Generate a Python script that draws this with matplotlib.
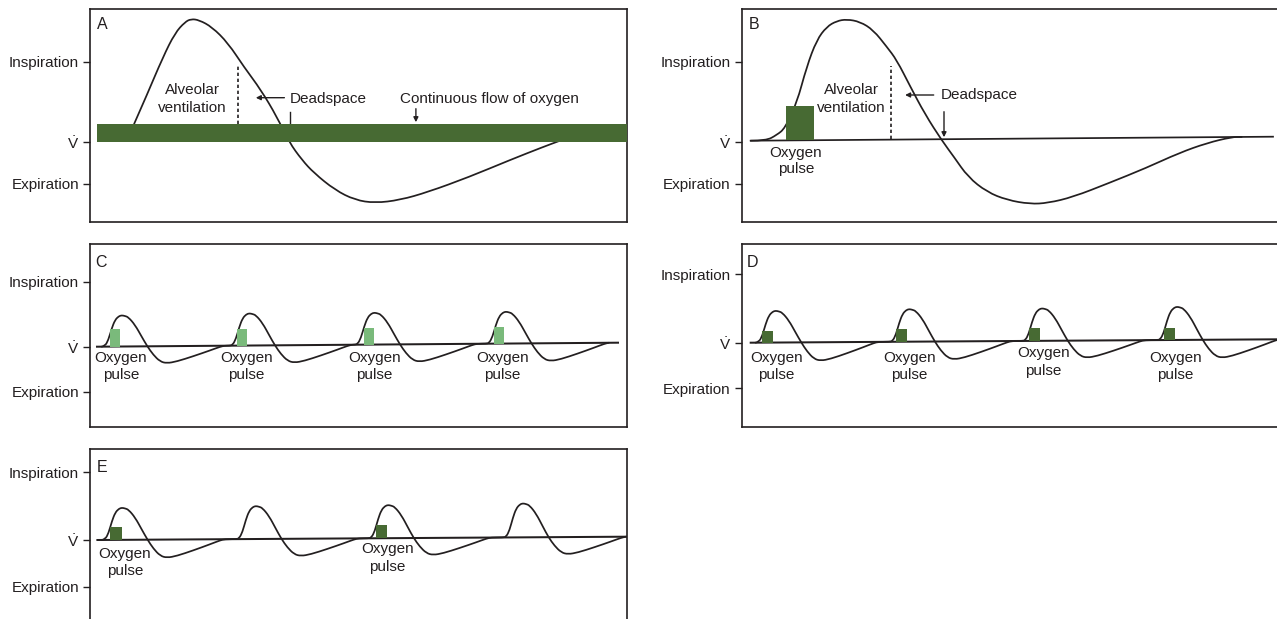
import matplotlib
matplotlib.use("Agg")
import matplotlib.pyplot as plt
from matplotlib.path import Path
from matplotlib.patches import PathPatch
import numpy as np

plt.rcParams['font.family'] = ['Liberation Sans', 'DejaVu Sans']
plt.rcParams['mathtext.fontset'] = 'custom'
plt.rcParams['mathtext.rm'] = 'Liberation Sans'
plt.rcParams['mathtext.it'] = 'Liberation Sans:italic'
plt.rcParams['mathtext.bf'] = 'Liberation Sans:bold'

# ---------------- data (time units ~ horizontal, flow units ~ vertical, V-dot = 0) ----------
TICK_LABELS = ['Inspiration', r'$\dot{\mathrm{V}}$', 'Expiration']

A_TICKS = [80.0, 0.0, -42.3]
A_TIME = [40, 44, 56, 73, 85, 95, 101, 109, 122, 138, 154, 171, 187, 199, 212, 224, 245,
          265, 285, 310, 338, 379, 420, 453, 470]
A_FLOW = [8, 17.7, 44.7, 84.7, 108.7, 119.7, 122.7, 121.7, 114.7, 98.7, 74.7, 51.7, 24.7,
          -0.3, -18.3, -31.3, -48.3, -58.3, -61.3, -58.3, -50.3, -35.3, -18.3, -5.3, 1.0]
A_BAND_TIME = [6.7, 537.0]
A_BAND_FLOW = [-0.3, 17.7]

B_TICKS = [80.0, 0.0, -42.3]
B_TIME = [9, 24.3, 35, 43.3, 55, 65, 75, 85, 95, 105, 118.3, 131.6, 145, 155, 168.3, 183.3,
          200.3, 212.3, 226.3, 245.3, 265.3, 288.3, 306.3, 331.3, 367.3, 404.3, 437.3,
          465.3, 490.3, 500]
B_FLOW = [1, 1, 6.7, 13.4, 38.4, 75, 101.7, 115, 120.7, 122.4, 120, 111.7, 95, 81.7, 55.7,
          27.5, 1.0, -15.3, -35.3, -50.3, -58.3, -62.3, -61.3, -55.3, -41.3, -26.3, -11.3,
          -1.3, 4.7, 4.8]
B_BASELINE_TIME = [9.0, 531.3]
B_BASELINE_FLOW = [1.0, 5.0]
B_PULSE_TIME = [44.0]
B_PULSE_WIDTH = [28.3]
B_PULSE_TOP = [36.0]

# one breath of the pulsed panels, relative to its peak (time) and normalised flow
CYCLE_DT = [-20, -16.7, -13.4, -10, -6.7, -3, 0, 3, 6.6, 13.3, 20, 25.6, 31.6, 38.3, 45,
            55, 71.6, 88.3, 98.3, 103]
CYCLE_SHAPE = [0, 0.02, 0.21, 0.58, 0.85, 0.97, 1.0, 0.98, 0.94, 0.69, 0.31, 0.0, -0.5,
               -0.89, -1.0, -0.9, -0.6, -0.27, -0.06, 0.0]

C_TICKS = [65.6, 0.0, -44.4]
C_PEAK_TIME = [31.7, 159.3, 284.3, 415.8]
C_PEAK_HEIGHT = [31.2, 32.2, 31.9, 31.9]
C_TROUGH_DEPTH = [17.1, 17.5, 17.5, 17.8]
C_BASELINE_TIME = [7.0, 528.0]
C_BASELINE_FLOW = [0.6, 4.6]
C_PULSE_TIME = [20.0, 147.4, 274.0, 403.5]
C_PULSE_WIDTH = [10.0, 10.0, 10.0, 10.0]
C_PULSE_HEIGHT = [17.8, 16.8, 16.9, 17.0]
C_LABEL_TIME = [31.0, 156.4, 284.2, 412.5]
C_LABEL_FLOW1 = [-14.4, -14.4, -14.4, -14.4]
C_LABEL_FLOW2 = [-31.5, -31.5, -31.5, -31.5]

D_TICKS = [69.0, 0.0, -45.0]
D_PEAK_TIME = [33.9, 167.5, 300.3, 435.3]
D_PEAK_HEIGHT = [31.8, 32.6, 32.5, 33.2]
D_TROUGH_DEPTH = [18.5, 18.0, 17.2, 18.1]
D_BASELINE_TIME = [9.0, 537.3]
D_BASELINE_FLOW = [0.6, 4.0]
D_PULSE_TIME = [20.6, 154.0, 287.3, 422.1]
D_PULSE_WIDTH = [11.0, 11.0, 11.3, 11.3]
D_PULSE_HEIGHT = [12.0, 12.3, 13.0, 12.5]
D_LABEL_TIME = [34.4, 167.5, 301.5, 433.9]
D_LABEL_FLOW1 = [-18.4, -18.4, -14.0, -18.4]
D_LABEL_FLOW2 = [-36.0, -36.0, -31.7, -36.0]

E_TICKS = [67.7, 0.0, -46.7]
E_PEAK_TIME = [31.9, 165.8, 298.1, 432.9]
E_PEAK_HEIGHT = [32.1, 33.0, 33.2, 34.0]
E_TROUGH_DEPTH = [18.2, 17.3, 17.1, 17.2]
E_BASELINE_TIME = [7.4, 536.2]
E_BASELINE_FLOW = [0.0, 3.3]
E_PULSE_TIME = [20.0, 285.9]
E_PULSE_WIDTH = [12.0, 11.4]
E_PULSE_HEIGHT = [12.8, 13.2]
E_LABEL_TIME = [35.0, 297.3]
E_LABEL_FLOW1 = [-18.3, -13.3]
E_LABEL_FLOW2 = [-35.0, -30.7]

# ---------------- style ----------------
INK = '#231f20'
DARK_GREEN = '#476a33'
LIGHT_GREEN = '#7aba7b'
FS = 11
LW = 1.25

FIG_W, FIG_H = 1277, 619
fig = plt.figure(figsize=(FIG_W / 100, FIG_H / 100), dpi=100)


def make_panel(left, top, right, bottom, vdot, ticks, letter, letter_pos):
    ax = fig.add_axes([left / FIG_W, 1 - bottom / FIG_H,
                       (right - left) / FIG_W, (bottom - top) / FIG_H])
    ax.set_xlim(0, right - left)
    ax.set_ylim(vdot - bottom, vdot - top)
    ax.set_xticks([])
    ax.set_yticks(ticks)
    ax.set_yticklabels(TICK_LABELS, fontsize=FS, color=INK)
    ax.tick_params(axis='y', length=4.8, width=1.0, pad=3, color=INK)
    for s in ax.spines.values():
        s.set_linewidth(1.2)
        s.set_color(INK)
    ax.text(letter_pos[0], letter_pos[1], letter, fontsize=FS + 0.5, color=INK,
            ha='left', va='baseline')
    return ax


def smooth_line(ax, ts, fs, lw=LW, zorder=2):
    """Draw the read points as a smooth quadratic-Bezier line (matplotlib Path)."""
    p = np.column_stack([ts, fs])
    verts = [p[0]]
    codes = [Path.MOVETO]
    for i in range(1, len(p) - 1):
        mid = (p[i] + p[i + 1]) / 2
        verts += [p[i], mid]
        codes += [Path.CURVE3, Path.CURVE3]
    verts.append(p[-1])
    codes.append(Path.LINETO)
    ax.add_patch(PathPatch(Path(verts, codes), fill=False, edgecolor=INK, lw=lw,
                           zorder=zorder, capstyle='round', joinstyle='round'))


def breath_curve(peaks, heights, depths, bt, bf):
    ts, fs = [], []
    dt = np.array(CYCLE_DT)
    sh = np.array(CYCLE_SHAPE)
    for p, h, d in zip(peaks, heights, depths):
        t = p + dt
        base = np.interp(t, bt, bf)
        f = base + np.where(sh > 0, sh * h, sh * d)
        ts.extend(t)
        fs.extend(f)
    return ts, fs


def arrow(ax, tail, head):
    ax.annotate('', xy=head, xytext=tail,
                arrowprops=dict(arrowstyle='-|>', color=INK, lw=1.0,
                                mutation_scale=7, shrinkA=0, shrinkB=0))


def pulse_labels(ax, times, f1, f2):
    for t, a, b in zip(times, f1, f2):
        ax.text(t, a, 'Oxygen', fontsize=FS, color=INK, ha='center', va='baseline')
        ax.text(t, b, 'pulse', fontsize=FS, color=INK, ha='center', va='baseline')


# ---------------- Panel A ----------------
axA = make_panel(90, 9, 627, 221.7, 141.7, A_TICKS, 'A', (6.7, 112.4))
smooth_line(axA, A_TIME, A_FLOW)
axA.bar(A_BAND_TIME[0], A_BAND_FLOW[1] - A_BAND_FLOW[0], width=A_BAND_TIME[1] - A_BAND_TIME[0],
        bottom=A_BAND_FLOW[0], align='edge', color=DARK_GREEN, edgecolor='none', zorder=3)
axA.plot([148, 148], [17.7, 76], color=INK, lw=1.2, linestyle=(0, (2, 1.6)))
axA.text(102.5, 47.4, 'Alveolar', fontsize=FS, color=INK, ha='center', va='baseline')
axA.text(102.5, 30.0, 'ventilation', fontsize=FS, color=INK, ha='center', va='baseline')
axA.text(199.8, 39.0, 'Deadspace', fontsize=FS, color=INK, ha='left', va='baseline')
arrow(axA, (194.4, 44.0), (165.8, 44.0))
axA.plot([200.1, 200.1], [30.0, 17.7], color=INK, lw=1.0)
axA.text(309.6, 39.0, 'Continuous flow of oxygen', fontsize=FS, color=INK, ha='left',
         va='baseline')
arrow(axA, (325.9, 33.0), (325.9, 19.5))

# ---------------- Panel B ----------------
axB = make_panel(741.7, 9, 1279, 221.7, 141.7, B_TICKS, 'B', (6.6, 112.4))
axB.plot(B_BASELINE_TIME, B_BASELINE_FLOW, color=INK, lw=LW, zorder=2)
smooth_line(axB, B_TIME, B_FLOW)
b_bottom = np.interp(B_PULSE_TIME, B_BASELINE_TIME, B_BASELINE_FLOW)
axB.bar(B_PULSE_TIME, np.array(B_PULSE_TOP) - b_bottom, width=B_PULSE_WIDTH, bottom=b_bottom,
        align='edge', color=DARK_GREEN, edgecolor='none', zorder=3)
axB.plot([149, 149], [2.2, 76], color=INK, lw=1.2, linestyle=(0, (2, 1.6)))
axB.text(109.5, 47.7, 'Alveolar', fontsize=FS, color=INK, ha='center', va='baseline')
axB.text(109.5, 30.0, 'ventilation', fontsize=FS, color=INK, ha='center', va='baseline')
axB.text(199.4, 42.4, 'Deadspace', fontsize=FS, color=INK, ha='left', va='baseline')
arrow(axB, (192.0, 46.7), (163.4, 46.7))
arrow(axB, (202.3, 30.0), (202.3, 4.5))
pulse_labels(axB, [54.1], [-15.0], [-31.0])


def pulsed_panel(ax, peaks, heights, depths, bt, bf, pt, pw, ph, color, lt, lf1, lf2):
    ax.plot(bt, bf, color=INK, lw=LW + 0.2, zorder=2)
    t, f = breath_curve(peaks, heights, depths, bt, bf)
    smooth_line(ax, t, f)
    bottoms = np.interp(pt, bt, bf)
    ax.bar(pt, ph, width=pw, bottom=bottoms, align='edge', color=color,
           edgecolor='none', zorder=3)
    pulse_labels(ax, lt, lf1, lf2)


# ---------------- Panel C ----------------
axC = make_panel(90, 244, 627, 426.7, 347.3, C_TICKS, 'C', (5.0, 80.6))
pulsed_panel(axC, C_PEAK_TIME, C_PEAK_HEIGHT, C_TROUGH_DEPTH, C_BASELINE_TIME, C_BASELINE_FLOW,
             C_PULSE_TIME, C_PULSE_WIDTH, C_PULSE_HEIGHT, LIGHT_GREEN,
             C_LABEL_TIME, C_LABEL_FLOW1, C_LABEL_FLOW2)

# ---------------- Panel D ----------------
axD = make_panel(741.7, 244, 1279, 426.7, 343.3, D_TICKS, 'D', (5.0, 76.6))
pulsed_panel(axD, D_PEAK_TIME, D_PEAK_HEIGHT, D_TROUGH_DEPTH, D_BASELINE_TIME, D_BASELINE_FLOW,
             D_PULSE_TIME, D_PULSE_WIDTH, D_PULSE_HEIGHT, DARK_GREEN,
             D_LABEL_TIME, D_LABEL_FLOW1, D_LABEL_FLOW2)

# ---------------- Panel E ----------------
axE = make_panel(90, 449, 627, 632, 540.0, E_TICKS, 'E', (6.7, 67.7))
pulsed_panel(axE, E_PEAK_TIME, E_PEAK_HEIGHT, E_TROUGH_DEPTH, E_BASELINE_TIME, E_BASELINE_FLOW,
             E_PULSE_TIME, E_PULSE_WIDTH, E_PULSE_HEIGHT, DARK_GREEN,
             E_LABEL_TIME, E_LABEL_FLOW1, E_LABEL_FLOW2)

fig.savefig('out.png', dpi=100)
